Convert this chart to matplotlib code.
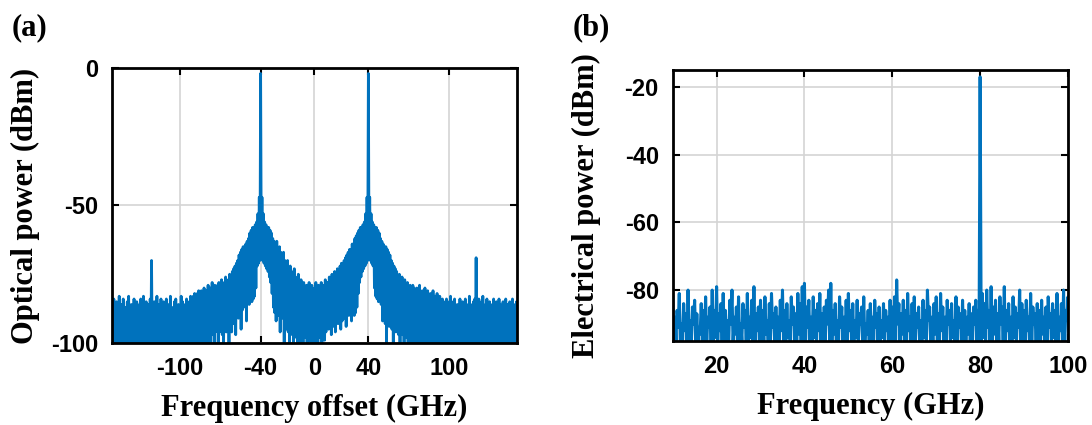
import numpy as np
import matplotlib
matplotlib.use("Agg")
import matplotlib.pyplot as plt

plt.rcParams["axes.unicode_minus"] = False

# ---- panel (a): optical spectrum, 1 GHz bins from -150 to 150 GHz ----
freq_a = np.arange(-150, 151, 1)
# upper values of the trace in each bin (dBm)
top_a = [
    -86, -84, -88, -85, -87, -83, -89, -86, -84, -88, -87, -85, -83, -88, -86, -89, -84, -87, -85, -88,  # -150..-131
    -86, -84, -88, -83, -87, -85, -89, -86, -84, -70, -87, -85, -88, -83, -86, -89, -84, -87, -85, -88,  # -130..-111
    -84, -88, -86, -83, -87, -89, -85, -84, -88, -86, -87, -83, -85, -88, -86, -84, -87, -85, -83, -86,  # -110..-91
    -83, -82, -84, -82, -81, -83, -81, -82, -80, -82, -81, -79, -81, -80, -78, -80, -79, -81, -79, -78,  # -90..-71
    -79, -77, -79, -78, -76, -78, -77, -75, -76, -74, -73, -72, -71, -70, -68, -67, -66, -65, -65, -64,  # -70..-51
    -63, -62, -60, -59, -58, -58, -57, -56, -53, -47, -2, -47, -53, -56, -57, -58, -58, -59, -60, -62,   # -50..-31
    -63, -64, -63, -66, -65, -67, -68, -67, -70, -71, -70, -73, -72, -74, -75, -73, -76, -77, -75, -78,  # -30..-11
    -77, -79, -78, -80, -79, -81, -78, -80, -79, -82, -80, -78, -81, -79, -80, -78, -81, -79, -77, -78,  # -10..9
    -78, -76, -77, -75, -76, -74, -75, -73, -74, -72, -71, -72, -70, -69, -68, -67, -66, -66, -64, -64,  # 10..29
    -62, -61, -60, -59, -58, -58, -57, -56, -53, -47, -2, -47, -53, -56, -57, -58, -58, -59, -60, -62,   # 30..49
    -63, -64, -65, -65, -66, -67, -68, -70, -71, -72, -73, -74, -76, -75, -77, -76, -78, -77, -79, -78,  # 50..69
    -80, -79, -81, -79, -80, -82, -80, -81, -79, -82, -81, -83, -80, -82, -81, -83, -82, -84, -81, -83,  # 70..89
    -84, -82, -85, -83, -86, -84, -85, -87, -84, -86, -85, -83, -88, -85, -84, -87, -86, -88, -84, -86,  # 90..109
    -85, -88, -84, -86, -87, -83, -86, -88, -85, -84, -69, -86, -84, -87, -85, -83, -88, -86, -84, -87,  # 110..129
    -85, -88, -86, -84, -87, -85, -89, -84, -86, -88, -85, -87, -84, -86, -88, -85, -87, -84, -86, -88, -85,  # 130..150
]
# lower values of the trace in each bin (dBm)
bot_a = [
    -100, -99, -100, -100, -98, -100, -100, -99, -100, -100, -100, -98, -100, -100, -99, -100, -100, -100, -99, -100,
    -100, -100, -99, -100, -100, -98, -100, -99, -100, -100, -100, -100, -98, -100, -100, -99, -100, -100, -100, -99,
    -100, -99, -100, -100, -100, -98, -100, -100, -99, -100, -100, -100, -98, -100, -99, -100, -100, -100, -99, -100,
    -100, -100, -99, -100, -100, -100, -98, -100, -100, -99, -100, -100, -100, -96, -97, -100, -96, -95, -100, -96,
    -95, -97, -100, -95, -96, -94, -100, -95, -96, -93, -92, -97, -90, -91, -89, -95, -88, -87, -86, -92,
    -85, -86, -84, -85, -84, -83, -80, -72, -71, -70, -66, -70, -71, -72, -73, -74, -76, -78, -82, -87,
    -89, -92, -88, -90, -96, -89, -91, -100, -92, -95, -96, -100, -94, -97, -100, -95, -98, -100, -96, -100,
    -97, -100, -95, -98, -100, -96, -99, -100, -97, -100, -100, -96, -100, -98, -95, -100, -97, -99, -96, -94,
    -95, -93, -97, -92, -94, -96, -91, -93, -90, -95, -92, -89, -91, -94, -88, -90, -87, -92, -89, -90,
    -89, -87, -82, -78, -76, -74, -73, -72, -71, -70, -66, -70, -71, -72, -80, -83, -84, -85, -84, -86,
    -92, -90, -93, -100, -92, -94, -91, -95, -100, -93, -96, -94, -97, -100, -95, -97, -100, -96, -98, -100,
    -97, -100, -99, -100, -96, -100, -100, -98, -100, -100, -99, -100, -100, -98, -100, -100, -100, -99, -100, -100,
    -100, -99, -100, -100, -98, -100, -100, -100, -99, -100, -100, -98, -100, -100, -99, -100, -100, -100, -98, -100,
    -100, -100, -99, -100, -100, -98, -100, -100, -100, -99, -100, -100, -100, -98, -100, -100, -99, -100, -100, -100,
    -99, -100, -100, -98, -100, -100, -100, -99, -100, -100, -98, -100, -100, -100, -99, -100, -100, -98, -100, -100, -100,
]
xticks_a = [-100, -40, 0, 40, 100]
yticks_a = [-100, -50, 0]

# ---- panel (b): electrical spectrum, 0.5 GHz bins from 10 to 100 GHz ----
freq_b = np.arange(10, 100.5, 0.5)
top_b = [
    -82, -88, -86, -81, -90, -84, -87, -80, -89, -85, -83, -87, -91, -84, -86, -82, -88, -85, -80, -86,  # 10..19.5
    -79, -87, -84, -81, -86, -89, -83, -80, -88, -85, -82, -90, -84, -86, -81, -88, -83, -79, -87, -85,  # 20..29.5
    -83, -86, -82, -89, -84, -81, -87, -85, -88, -83, -80, -86, -84, -89, -82, -85, -87, -81, -84, -79,  # 30..39.5
    -78, -85, -83, -88, -82, -86, -84, -81, -87, -85, -83, -80, -78, -86, -84, -89, -82, -85, -88, -83,  # 40..49.5
    -81, -86, -84, -89, -83, -87, -85, -82, -90, -86, -84, -88, -83, -87, -85, -89, -84, -86, -88, -83,  # 50..59.5
    -85, -82, -77, -84, -87, -83, -86, -81, -88, -84, -82, -87, -85, -89, -83, -86, -80, -85, -88, -84,  # 60..69.5
    -82, -87, -81, -85, -88, -83, -86, -84, -89, -82, -85, -87, -83, -86, -88, -84, -87, -85, -83, -86,  # 70..79.5
    -17, -81, -84, -80, -86, -79, -85, -83, -87, -82, -85, -79, -86, -84, -88, -82, -85, -87, -80, -84,  # 80..89.5
    -86, -83, -88, -81, -85, -87, -84, -86, -83, -88, -85, -82, -87, -84, -86, -81, -88, -84, -80, -86,  # 90..99.5
    -82,                                                                                                # 100
]
bot_b = [
    -96, -95, -91, -96, -96, -92, -96, -95, -96, -90, -96, -96, -93, -96, -95, -96, -91, -96, -96, -94,
    -96, -92, -96, -95, -96, -96, -90, -96, -93, -96, -96, -95, -91, -96, -96, -94, -96, -96, -92, -96,
    -95, -96, -93, -96, -96, -91, -96, -95, -96, -92, -96, -96, -94, -96, -90, -96, -96, -93, -96, -95,
    -96, -91, -96, -96, -94, -96, -92, -96, -96, -95, -90, -96, -96, -93, -96, -96, -91, -96, -95, -96,
    -92, -96, -96, -94, -96, -90, -96, -96, -93, -96, -95, -96, -91, -96, -96, -94, -96, -92, -96, -96,
    -95, -96, -90, -96, -93, -96, -96, -92, -96, -95, -96, -91, -96, -96, -94, -96, -89, -96, -96, -93,
    -96, -95, -92, -96, -96, -90, -96, -94, -96, -96, -91, -96, -95, -96, -93, -96, -96, -90, -96, -96,
    -96, -94, -96, -91, -96, -96, -93, -96, -95, -90, -96, -96, -92, -96, -96, -94, -96, -91, -96, -95,
    -96, -92, -96, -96, -90, -96, -95, -96, -93, -96, -96, -91, -96, -94, -96, -96, -92, -96, -96, -89,
    -96,
]
xticks_b = [20, 40, 60, 80, 100]
yticks_b = [-20, -40, -60, -80]

BLUE = "#0072BD"
TICK_FONT = dict(family="Liberation Sans", weight="bold", size=17)
LABEL_FONT = dict(family="Liberation Serif", weight="bold", size=22)


def zigzag(freq, tops, bots, step):
    # each bin is drawn as a swing from its top value down to its bottom value
    x = np.empty(2 * len(freq))
    y = np.empty(2 * len(freq))
    x[0::2] = freq
    x[1::2] = freq + step / 2
    y[0::2] = tops
    y[1::2] = bots
    return x, y


def style_axes(ax):
    ax.grid(True, color="#d4d4d4", linewidth=1.2)
    ax.set_axisbelow(True)
    for s in ax.spines.values():
        s.set_linewidth(2)
    ax.tick_params(direction="in", top=True, right=True, length=5, width=1.5, pad=10)
    for lab in ax.get_xticklabels() + ax.get_yticklabels():
        lab.set_fontproperties(matplotlib.font_manager.FontProperties(**TICK_FONT))


fig = plt.figure(figsize=(10.92, 4.25), dpi=100)

ax_a = fig.add_axes([0.103, 0.193, 0.370, 0.647])
xa, ya = zigzag(freq_a, top_a, bot_a, 1.0)
ax_a.plot(xa, ya, color=BLUE, linewidth=2.0)
ax_a.set_xlim(-150, 150)
ax_a.set_ylim(-100, 0)
ax_a.set_xticks(xticks_a)
ax_a.set_yticks(yticks_a)
style_axes(ax_a)
ax_a.set_xlabel("Frequency offset (GHz)", fontdict=LABEL_FONT, labelpad=10)
ax_a.set_ylabel("Optical power (dBm)", fontdict=LABEL_FONT, labelpad=8)

ax_b = fig.add_axes([0.616, 0.198, 0.362, 0.637])
xb, yb = zigzag(freq_b, top_b, bot_b, 0.5)
ax_b.plot(xb, yb, color=BLUE, linewidth=2.2)
ax_b.set_xlim(10, 100)
ax_b.set_ylim(-95, -15)
ax_b.set_xticks(xticks_b)
ax_b.set_yticks(yticks_b)
style_axes(ax_b)
ax_b.set_xlabel("Frequency (GHz)", fontdict=LABEL_FONT, labelpad=10)
ax_b.set_ylabel("Electrical power (dBm)", fontdict=LABEL_FONT, labelpad=17)

fig.text(0.011, 0.968, "(a)", family="Liberation Serif", weight="bold", size=22, va="top")
fig.text(0.524, 0.968, "(b)", family="Liberation Serif", weight="bold", size=22, va="top")

fig.savefig("out.png", dpi=100)
